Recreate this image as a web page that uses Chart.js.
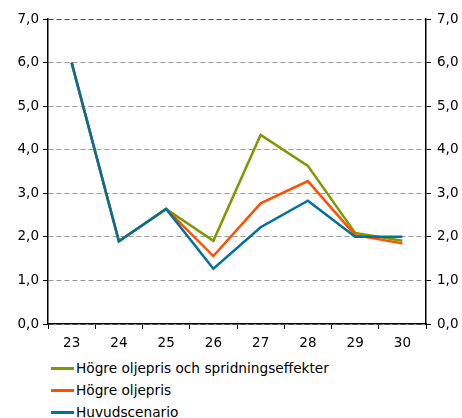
<!DOCTYPE html>
<html>
<head>
<meta charset="utf-8">
<script src="https://cdn.jsdelivr.net/npm/chart.js@4"></script>
<style>
  html, body { margin: 0; padding: 0; background: #fff; }
  #wrap { position: relative; width: 462px; height: 418px; }
  #box { position: absolute; left: 0; top: 0; width: 462px; height: 352px; }
  #legend { position: absolute; left: 51px; top: 357px; font: 13.7px "DejaVu Sans", Verdana, sans-serif; color: #000; }
  .item { height: 22px; display: flex; align-items: center; }
  .swatch { width: 23px; height: 3px; margin-right: 2px; }
</style>
</head>
<body>
<div id="wrap">
  <div id="box"><canvas id="myChart"></canvas></div>
  <div id="legend"></div>
</div>
<script>
const labels = ['23', '24', '25', '26', '27', '28', '29', '30'];
const seriesNames = ['Högre oljepris och spridningseffekter', 'Högre oljepris', 'Huvudscenario'];
const spridning = [6.0, 1.9, 2.64, 1.91, 4.34, 3.63, 2.09, 1.91];
const oljepris = [6.0, 1.9, 2.64, 1.56, 2.77, 3.28, 2.04, 1.85];
const huvud = [6.0, 1.9, 2.64, 1.27, 2.22, 2.83, 2.0, 2.0];
const colors = ['#7a9a01', '#ff5000', '#00719c'];

const font = { family: '"DejaVu Sans", Verdana, sans-serif', size: 13.5 };
const fmt = v => v.toFixed(1).replace('.', ',');

const chart = document.getElementById('myChart');
const allSeries = [spridning, oljepris, huvud];

const data = {
    labels: labels,
    datasets: allSeries.map((s, i) => ({
        label: seriesNames[i],
        data: s,
        borderColor: colors[i],
        backgroundColor: colors[i],
        borderWidth: 2.5,
        pointRadius: 0,
        tension: 0,
        fill: false,
        order: 2 - i // huvudscenario on top
    }))
};

const config = {
    type: 'line',
    data: data,
    options: {
        responsive: true,
        maintainAspectRatio: false,
        animation: false,
        layout: { padding: { top: 19, left: 0, right: 0, bottom: 0 } },
        plugins: {
            legend: { display: false },
            tooltip: { enabled: false }
        },
        scales: {
            x: {
                type: 'category',
                offset: true,
                grid: {
                    offset: true,
                    drawOnChartArea: false,
                    drawTicks: true,
                    tickLength: 5,
                    color: '#000'
                },
                border: { color: '#000', width: 1.5 },
                ticks: { color: '#000', font: font, padding: 6, maxRotation: 0 },
                afterFit: scale => { scale.height = 28; }
            },
            y: {
                position: 'left',
                min: 0,
                max: 7,
                grid: {
                    color: ctx => ctx.tick && ctx.tick.value === 7 ? '#444' : '#999',
                    tickColor: '#000',
                    tickLength: 5,
                    lineWidth: 1
                },
                border: { color: '#000', width: 1.5, dash: [5, 3] },
                ticks: { stepSize: 1, color: '#000', font: font, padding: 4, callback: v => fmt(v) },
                afterFit: scale => { scale.width = 48; }
            },
            y2: {
                position: 'right',
                min: 0,
                max: 7,
                grid: { drawOnChartArea: false, tickColor: '#000', tickLength: 5 },
                border: { color: '#000', width: 1.5 },
                ticks: { stepSize: 1, color: '#000', font: font, padding: 6, callback: v => fmt(v) },
                afterFit: scale => { scale.width = 36; }
            }
        }
    }
};
const myChart = new Chart(chart, config);

// legend as plain list, one series per row
const legend = document.getElementById('legend');
seriesNames.forEach((name, i) => {
    const row = document.createElement('div');
    row.className = 'item';
    row.innerHTML = '<span class="swatch" style="background:' + colors[i] + '"></span><span>' + name + '</span>';
    legend.appendChild(row);
});
</script>
</body>
</html>
